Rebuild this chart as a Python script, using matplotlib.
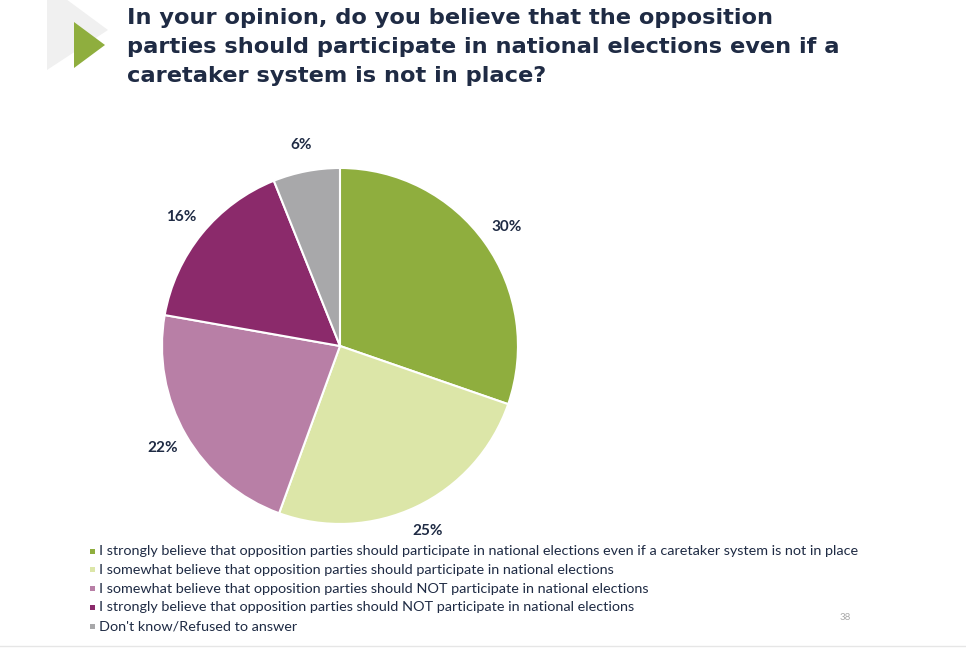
import matplotlib.pyplot as plt
from matplotlib.patches import Polygon, Rectangle

# Data
categories = [
    'I strongly believe that opposition parties should participate in national elections even if a caretaker system is not in place',
    'I somewhat believe that opposition parties should participate in national elections',
    'I somewhat believe that opposition parties should NOT participate in national elections',
    'I strongly believe that opposition parties should NOT participate in national elections',
    "Don't know/Refused to answer",
]
values = [30, 25, 22, 16, 6]
pct_labels = ['30%', '25%', '22%', '16%', '6%']
colors = ['#8fae3e', '#dce6a8', '#b87fa6', '#8b2a6b', '#a8a8aa']

title_lines = ['In your opinion, do you believe that the opposition',
               'parties should participate in national elections even if a',
               'caretaker system is not in place?']

text_col = '#1f2b44'
plt.rcParams['font.family'] = ['Lato', 'DejaVu Sans']

fig = plt.figure(figsize=(9.66, 6.48), dpi=100)
fig.patch.set_facecolor('white')

W, H = 966, 648
def fx(x): return x / W
def fy(y): return 1 - y / H

# arrow decoration, top left
grey_shape = Polygon([(fx(47), fy(-15)), (fx(47), fy(70)), (fx(108), fy(30))],
                     closed=True, transform=fig.transFigure, facecolor='#f0f0f0', edgecolor='none')
fig.patches.append(grey_shape)
tri = Polygon([(fx(74), fy(22)), (fx(105), fy(45)), (fx(74), fy(68))],
              closed=True, transform=fig.transFigure, facecolor='#8fae3e', edgecolor='none')
fig.patches.append(tri)

for i, line in enumerate(title_lines):
    fig.text(fx(127), fy(18 + i * 29), line, ha='left', va='center', fontsize=16.2,
             fontweight='bold', color=text_col, family='DejaVu Sans')

# Pie
ax = fig.add_axes([0.1677, 0.1914, 0.3685, 0.5494])
wedges, texts = ax.pie(values, colors=colors, startangle=90, counterclock=False,
                       labels=pct_labels, labeldistance=1.15,
                       wedgeprops=dict(edgecolor='white', linewidth=1.5),
                       textprops=dict(fontsize=11, color=text_col, fontweight='bold'))
for t in texts:
    t.set_ha('center')
    t.set_va('center')
ax.set_xlim(-1, 1)
ax.set_ylim(-1, 1)
ax.set_aspect('equal')
ax.axis('off')

# Legend
y0 = 551
for i, (lab, c) in enumerate(zip(categories, colors)):
    y = y0 + i * 18.8
    fig.patches.append(Rectangle((fx(90), fy(y + 2.5)), 5 / W, 5 / H, transform=fig.transFigure,
                                 facecolor=c, edgecolor='none'))
    fig.text(fx(99), fy(y), lab, ha='left', va='center', fontsize=10.4, color=text_col)

fig.text(fx(845), fy(618), '38', ha='center', va='center', fontsize=7, color='#aaaaaa')
fig.add_artist(plt.Line2D([fx(0), fx(966)], [fy(646), fy(646)], transform=fig.transFigure,
                          color='#e6e6e6', linewidth=1))

fig.savefig('out.png', dpi=100, facecolor='white')
